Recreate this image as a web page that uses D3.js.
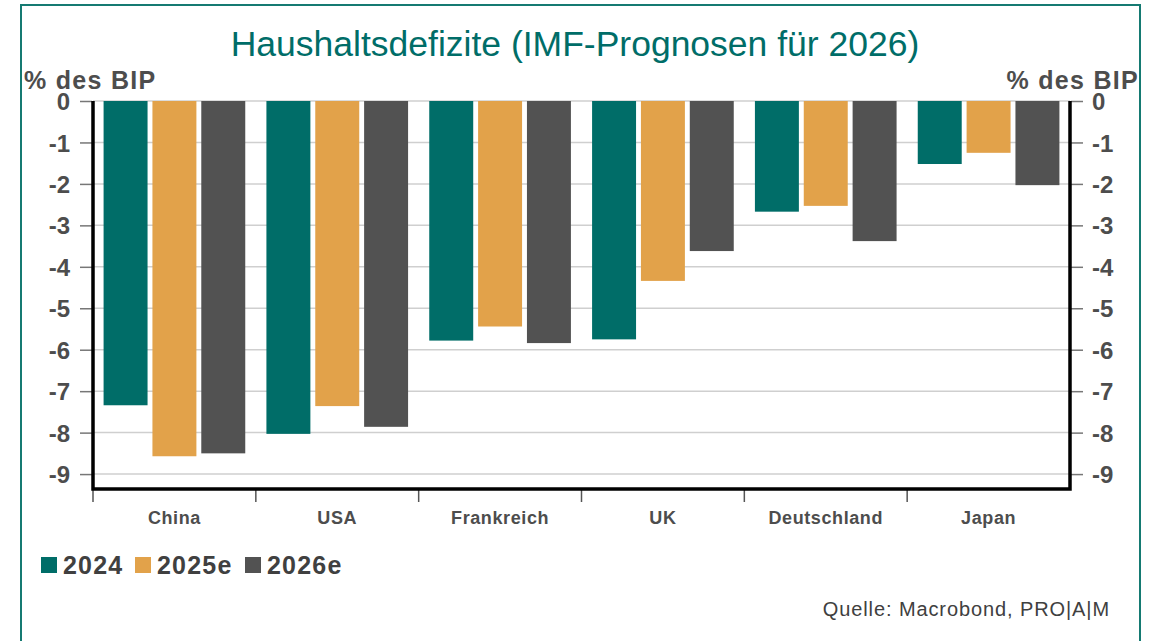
<!DOCTYPE html>
<html><head><meta charset="utf-8">
<script src="https://cdn.jsdelivr.net/npm/d3@7"></script>
<style>body{margin:0;background:#fff;}svg{display:block;font-family:"Liberation Sans",Arial,sans-serif;}</style>
</head><body>
<svg id="c" width="1156" height="641"></svg>
<script>
const categories = ["China","USA","Frankreich","UK","Deutschland","Japan"];
const seriesNames = ["2024","2025e","2026e"];
const values2024  = [-7.34,-8.03,-5.78,-5.75,-2.67,-1.52];
const values2025e = [-8.57,-7.36,-5.44,-4.34,-2.53,-1.25];
const values2026e = [-8.50,-7.86,-5.84,-3.62,-3.38,-2.03];
const yTicks = [0,-1,-2,-3,-4,-5,-6,-7,-8,-9];
const colors = ["#006d68","#e2a24a","#525252"];
const seriesValues = [values2024, values2025e, values2026e];

const svg = d3.select("#c");
const L = 93, R = 1070, T = 101, B = 489;
const textCol = "#4d4d4d";

// frame
svg.append("rect").attr("x",21).attr("y",5).attr("width",1119).attr("height",660)
  .attr("fill","none").attr("stroke","#157a72").attr("stroke-width",2);

// title
svg.append("text").attr("x",575).attr("y",56).attr("text-anchor","middle")
  .attr("font-size",35.5).attr("fill","#006d68").text("Haushaltsdefizite (IMF-Prognosen für 2026)");

const y = d3.scaleLinear().domain([-9.36,0]).range([B,T]);
const x0 = d3.scaleBand().domain(categories).range([L,R]).paddingInner(0.13).paddingOuter(0.065);
const x1 = d3.scaleBand().domain(seriesNames).range([0,x0.bandwidth()]).paddingInner(0.1);

// gridlines
svg.append("g").selectAll("line").data(yTicks).join("line")
  .attr("x1",L).attr("x2",R).attr("y1",d=>y(d)).attr("y2",d=>y(d))
  .attr("stroke","#cfcfcf").attr("stroke-width",1.5);

// bars
const rows = categories.map((c,i)=>({c, vals: seriesNames.map((s,j)=>({s, v: seriesValues[j][i], j}))}));
svg.append("g").selectAll("g").data(rows).join("g")
  .attr("transform",d=>`translate(${x0(d.c)},0)`)
  .selectAll("rect").data(d=>d.vals).join("rect")
  .attr("x",d=>x1(d.s)).attr("width",x1.bandwidth())
  .attr("y",y(0)).attr("height",d=>y(d.v)-y(0))
  .attr("fill",d=>colors[d.j]);

const fmt = d => String(d);
// left axis
const yl = svg.append("g").attr("transform",`translate(${L-1},0)`)
  .call(d3.axisLeft(y).tickValues(yTicks).tickSize(12).tickPadding(10).tickFormat(fmt));
yl.select(".domain").remove();
yl.selectAll("line").attr("stroke","#777").attr("stroke-width",1.5);
yl.selectAll("text").attr("font-size",24).attr("font-weight","bold").attr("fill",textCol)
  .attr("font-family","'Liberation Sans',Arial,sans-serif").attr("dy","0.36em");

const yr = svg.append("g").attr("transform",`translate(${R+1},0)`)
  .call(d3.axisRight(y).tickValues(yTicks).tickSize(12).tickPadding(9).tickFormat(fmt));
yr.select(".domain").remove();
yr.selectAll("line").attr("stroke","#777").attr("stroke-width",1.5);
yr.selectAll("text").attr("font-size",24).attr("font-weight","bold").attr("fill",textCol)
  .attr("font-family","'Liberation Sans',Arial,sans-serif").attr("dy","0.36em");

// x boundary ticks
const step = x0.step();
svg.append("g").selectAll("line").data(categories).join("line")
  .attr("x1",(d,i)=>L+i*step).attr("x2",(d,i)=>L+i*step)
  .attr("y1",B).attr("y2",B+13).attr("stroke","#555").attr("stroke-width",1.5);

// plot frame (left, bottom, right)
svg.append("path").attr("d",`M${L},${T}V${B}H${R}V${T}`)
  .attr("fill","none").attr("stroke","#000").attr("stroke-width",3.5);

// category labels
svg.append("g").selectAll("text").data(categories).join("text")
  .attr("x",d=>x0(d)+x0.bandwidth()/2).attr("y",524).attr("text-anchor","middle")
  .attr("font-size",18).attr("letter-spacing",0.6).attr("font-weight","bold").attr("fill",textCol).text(d=>d);

// axis unit labels
svg.append("text").attr("x",24).attr("y",89).attr("font-size",25).attr("letter-spacing",1.3).attr("font-weight","bold")
  .attr("fill",textCol).text("% des BIP");
svg.append("text").attr("x",1139).attr("y",89).attr("text-anchor","end").attr("font-size",25).attr("letter-spacing",1.3).attr("font-weight","bold")
  .attr("fill",textCol).text("% des BIP");

// legend
const legX = [41,135,245];
const lg = svg.append("g").selectAll("g").data(seriesNames).join("g")
  .attr("transform",(d,i)=>`translate(${legX[i]},557)`);
lg.append("rect").attr("width",16).attr("height",16).attr("fill",(d,i)=>colors[i]);
lg.append("text").attr("x",22).attr("y",17).attr("font-size",25).attr("letter-spacing",1.2).attr("font-weight","bold")
  .attr("fill","#404040").text(d=>d);

// source
svg.append("text").attr("x",1110).attr("y",616).attr("text-anchor","end").attr("font-size",20).attr("letter-spacing",0.9)
  .attr("fill","#404040").text("Quelle: Macrobond, PRO|A|M");
</script>
</body></html>
